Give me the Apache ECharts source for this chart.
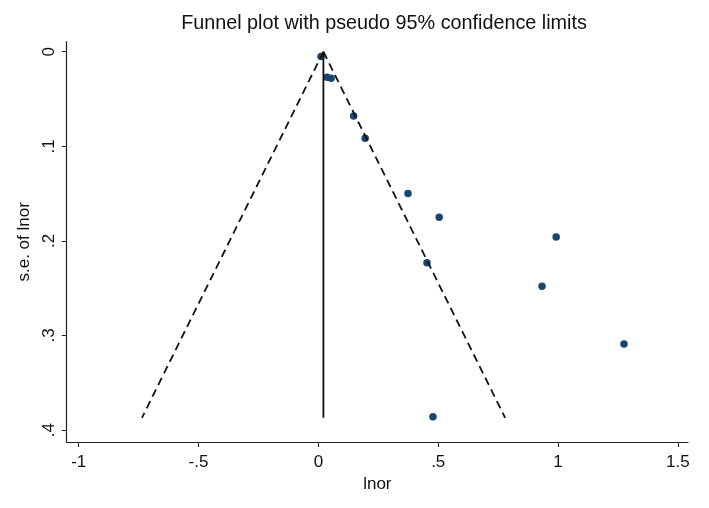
<!DOCTYPE html>
<html>
<head>
<meta charset="utf-8">
<script src="https://cdn.jsdelivr.net/npm/echarts@6/dist/echarts.min.js"></script>
<style>html,body{margin:0;padding:0;background:#fff}#c{width:709px;height:508px}</style>
</head>
<body>
<div id="c"></div>
<script>
// Study estimates: lnor (x) and s.e. of lnor (y)
const lnor = [0.011, 0.036, 0.053, 0.147, 0.195, 0.374, 0.504, 0.992, 0.453, 0.933, 1.275, 0.478];
const seLnor = [0.005, 0.027, 0.028, 0.068, 0.0915, 0.150, 0.175, 0.196, 0.223, 0.248, 0.309, 0.386];
// Pooled estimate line and pseudo 95% limits
const pooledLine = [[0.021, 0], [0.021, 0.387]];
const limitLeft = [[0.021, 0], [-0.736, 0.387]];
const limitRight = [[0.021, 0], [0.779, 0.387]];
const xTicks = [-1, -0.5, 0, 0.5, 1, 1.5];
const yTicks = [0, 0.1, 0.2, 0.3, 0.4];
const fmt = v => { let s = String(+v.toFixed(2)); return s.replace(/^(-?)0\./, '$1.'); };

const chart = echarts.init(document.getElementById('c'), null, {renderer: 'canvas'});
const font = '"Liberation Sans", Arial, sans-serif';
chart.setOption({
  backgroundColor: '#fff',
  animation: false,
  title: {
    text: 'Funnel plot with pseudo 95% confidence limits',
    left: 379, top: 9, textAlign: 'center',
    textStyle: {fontFamily: font, fontSize: 19.8, fontWeight: 'normal', color: '#111'}
  },
  grid: {left: 66.7, right: 21, top: 41.7, bottom: 66},
  xAxis: {
    type: 'value', min: -1.05, max: 1.542,
    name: 'lnor', nameLocation: 'middle', nameGap: 33,
    nameTextStyle: {fontFamily: font, fontSize: 17, color: '#111'},
    axisLine: {show: true, onZero: false, lineStyle: {color: '#222', width: 1.2}},
    axisTick: {show: true, length: 5, customValues: xTicks, lineStyle: {color: '#222'}},
    axisLabel: {customValues: xTicks, formatter: fmt, margin: 12, fontFamily: font, fontSize: 17, color: '#111'},
    splitLine: {show: false}
  },
  yAxis: {
    type: 'value', inverse: true, min: -0.0106, max: 0.4126,
    name: 's.e. of lnor', nameLocation: 'middle', nameGap: 28, nameRotate: 90,
    nameTextStyle: {fontFamily: font, fontSize: 17, color: '#111'},
    axisLine: {show: true, onZero: false, lineStyle: {color: '#222', width: 1.2}},
    axisTick: {show: true, length: 5, customValues: yTicks, lineStyle: {color: '#222'}},
    axisLabel: {customValues: yTicks, formatter: fmt, rotate: 90, margin: 9, fontFamily: font, fontSize: 17, color: '#111'},
    splitLine: {show: false}
  },
  series: [
    {type: 'line', data: limitLeft, symbol: 'none', lineStyle: {color: '#111', width: 1.8, type: [8, 5]}},
    {type: 'line', data: limitRight, symbol: 'none', lineStyle: {color: '#111', width: 1.8, type: [8, 5]}},
    {type: 'line', data: pooledLine, symbol: 'none', lineStyle: {color: '#111', width: 1.8}},
    {type: 'scatter', data: lnor.map((v, i) => [v, seLnor[i]]), symbol: 'circle', symbolSize: 7.5,
      itemStyle: {color: '#1a476f', opacity: 1}}
  ]
});
</script>
</body>
</html>
